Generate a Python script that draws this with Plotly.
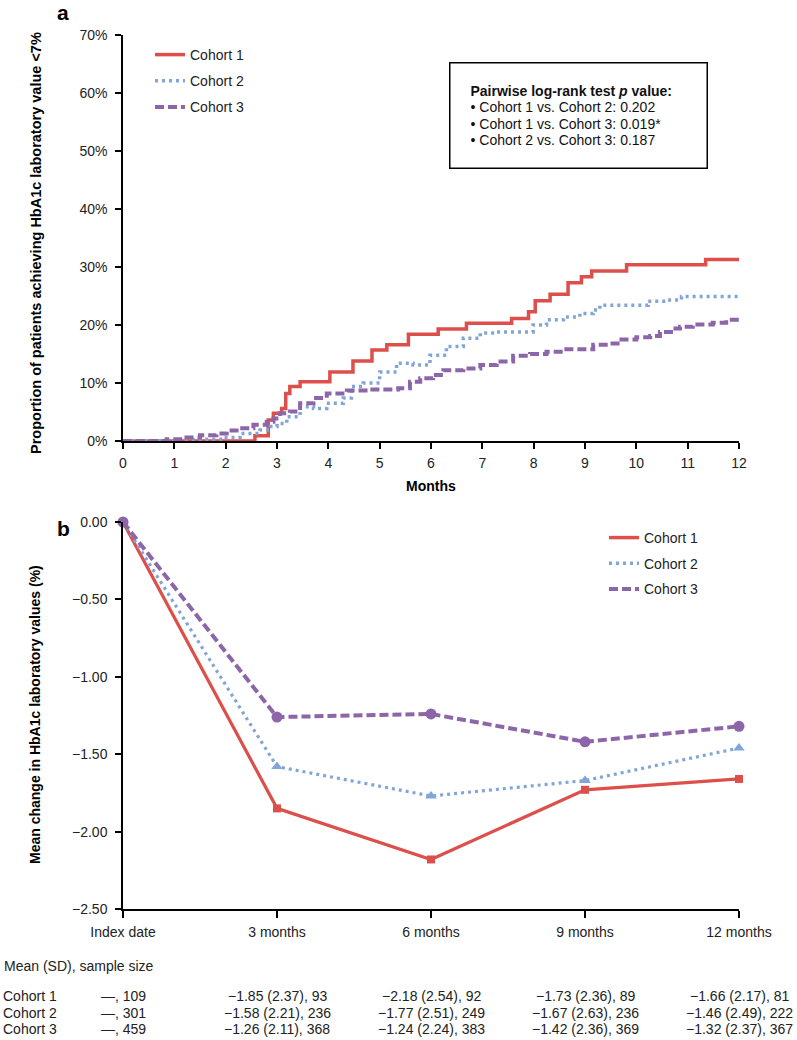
import plotly.graph_objects as go

# ---------------- Panel a data (cumulative proportion, %) ----------------
c1_t = [0, 2.57, 2.83, 2.93, 3.09, 3.17, 3.25, 3.45, 4.03, 4.48, 4.85, 5.14, 5.56, 6.14, 6.69,
        7.57, 7.90, 8.03, 8.32, 8.67, 8.93, 9.13, 9.81, 11.35, 12]
c1_v = [0, 0.9, 3.6, 4.8, 5.6, 8.2, 9.4, 10.2, 11.9, 13.8, 15.7, 16.6, 18.4, 19.3, 20.3,
        21.1, 22.3, 24.2, 25.3, 27.3, 28.3, 29.3, 30.4, 31.3, 31.3]

c2_t = [0, 1.0, 1.5, 1.95, 2.28, 2.67, 2.86, 3.0, 3.19, 3.45, 3.71, 3.97, 4.29, 4.45, 4.68,
        5.0, 5.33, 5.65, 5.98, 6.3, 6.63, 6.96, 7.28, 7.8, 7.99, 8.25, 8.58, 8.9, 9.16, 9.29,
        10.23, 10.59, 10.88, 12]
c2_v = [0, 0.2, 0.3, 0.6, 1.3, 1.9, 2.5, 3.0, 4.2, 5.9, 5.6, 6.5, 7.4, 9.4, 10.0,
        11.9, 13.4, 13.1, 14.8, 16.3, 17.7, 18.6, 18.8, 18.8, 20.0, 20.9, 21.4, 22.0, 22.6, 23.4,
        24.1, 24.3, 24.9, 24.9]

c3_t = [0, 0.85, 1.17, 1.5, 1.82, 2.02, 2.28, 2.54, 2.8, 2.93, 3.06, 3.25, 3.45, 3.71, 3.97,
        4.36, 4.81, 5.36, 5.59, 5.79, 6.04, 6.24, 6.63, 6.96, 7.28, 7.6, 7.93, 8.25, 8.58, 9.16,
        9.49, 9.71, 10.0, 10.27, 10.46, 10.72, 10.85, 11.1, 11.49, 11.75, 12]
c3_v = [0, 0.3, 0.6, 1.0, 1.3, 1.8, 2.2, 2.8, 3.3, 3.9, 4.8, 5.1, 6.5, 7.4, 8.2,
        8.7, 8.9, 9.1, 10.2, 10.8, 11.4, 12.2, 12.5, 13.1, 13.7, 14.7, 15.0, 15.4, 15.8, 16.6,
        16.8, 17.5, 17.9, 18.1, 18.8, 19.4, 19.7, 20.1, 20.4, 20.9, 21.0]

pct_ticks = [0, 10, 20, 30, 40, 50, 60, 70]
pct_labels = ["0%", "10%", "20%", "30%", "40%", "50%", "60%", "70%"]
month_ticks = list(range(0, 13))

# ---------------- Panel b data (mean change, %) ----------------
b_x = [0, 3, 6, 9, 12]
b_labels = ["Index date", "3 months", "6 months", "9 months", "12 months"]
b_c1 = [0, -1.85, -2.18, -1.73, -1.66]
b_c2 = [0, -1.58, -1.77, -1.67, -1.46]
b_c3 = [0, -1.26, -1.24, -1.42, -1.32]
b_yticks = [0, -0.5, -1.0, -1.5, -2.0, -2.5]

table_rows = ["Cohort 1", "Cohort 2", "Cohort 3"]
table_c1 = ["\u2014, 109", "\u22121.85 (2.37), 93", "\u22122.18 (2.54), 92", "\u22121.73 (2.36), 89", "\u22121.66 (2.17), 81"]
table_c2 = ["\u2014, 301", "\u22121.58 (2.21), 236", "\u22121.77 (2.51), 249", "\u22121.67 (2.63), 236", "\u22121.46 (2.49), 222"]
table_c3 = ["\u2014, 459", "\u22121.26 (2.11), 368", "\u22121.24 (2.24), 383", "\u22121.42 (2.36), 369", "\u22121.32 (2.37), 367"]

names = ["Cohort 1", "Cohort 2", "Cohort 3"]
RED = "#dc4f4b"
BLUE = "#82a5d8"
PURPLE = "#8c66a8"
FONT = "Arial, Liberation Sans, sans-serif"

W, H = 797, 1040
ML, MR, MT, MB = 123, 58, 35, 131
plot_h = H - MT - MB
dom_a = [(909 - 441) / plot_h, 1.0]
dom_b = [0.0, (909 - 522) / plot_h]

fig = go.Figure()

styles = [
    dict(color=RED, width=3.5, dash="solid"),
    dict(color=BLUE, width=3.5, dash="3px,4px"),
    dict(color=PURPLE, width=4, dash="9px,4px"),
]

for i, (t, v) in enumerate([(c1_t, c1_v), (c2_t, c2_v), (c3_t, c3_v)]):
    fig.add_trace(go.Scatter(
        x=t, y=v, mode="lines", line=dict(shape="hv", **styles[i]),
        name=names[i], legend="legend", legendgroup="a%d" % i,
        xaxis="x", yaxis="y", cliponaxis=False))

markers = ["square", "triangle-up", "circle"]
msizes = [8, 10, 11]
cols = [RED, BLUE, PURPLE]
for i, vals in enumerate([b_c1, b_c2, b_c3]):
    st = dict(styles[i])
    st["width"] = 3.2 if i < 2 else 4
    fig.add_trace(go.Scatter(
        x=b_x, y=vals, mode="lines+markers", line=st,
        marker=dict(symbol=markers[i], size=msizes[i], color=cols[i]),
        showlegend=False, xaxis="x2", yaxis="y2", cliponaxis=False))
# legend-only entries for panel b (lines without markers)
for i in range(3):
    fig.add_trace(go.Scatter(
        x=[None], y=[None], mode="lines", line=styles[i], name=names[i],
        legend="legend2", legendgroup="b%d" % i, xaxis="x2", yaxis="y2"))

axis_common = dict(showline=True, linecolor="black", linewidth=1.5, ticks="outside",
                   ticklen=6, tickwidth=1.5, tickcolor="black", showgrid=False, zeroline=False,
                   tickfont=dict(family=FONT, size=14, color="#222"))

def px_x(px):
    return (px - ML) / (W - ML - MR)

def px_y(py):
    return (H - MB - py) / plot_h

fig.update_layout(
    width=W, height=H, margin=dict(l=ML, r=MR, t=MT, b=MB),
    paper_bgcolor="white", plot_bgcolor="white",
    font=dict(family=FONT, size=14, color="#222"),
    xaxis=dict(domain=[0, 1], anchor="y", range=[0, 12], tickvals=month_ticks,
               ticklabelstandoff=2, **axis_common),
    yaxis=dict(domain=dom_a, anchor="x", range=[0, 70], tickvals=pct_ticks, ticktext=pct_labels,
               ticklabelstandoff=5, **axis_common),
    xaxis2=dict(domain=[0, 1], anchor="y2", range=[0, 12], tickvals=b_x, ticktext=b_labels,
                ticklabelstandoff=2, **{**axis_common, "ticklen": 7}),
    yaxis2=dict(domain=dom_b, anchor="x2", range=[-2.5, 0], tickvals=b_yticks, tickformat=".2f",
                ticklabelstandoff=5, **axis_common),
    legend=dict(x=px_x(150), y=px_y(39), xanchor="left", yanchor="top", bgcolor="rgba(0,0,0,0)",
                font=dict(family=FONT, size=14, color="#222"), tracegroupgap=5, itemwidth=30),
    legend2=dict(x=px_x(604), y=px_y(522), xanchor="left", yanchor="top", bgcolor="rgba(0,0,0,0)",
                 font=dict(family=FONT, size=14, color="#222"), tracegroupgap=4.5, itemwidth=30),
)

def big(s):
    return '<span style="font-size:14px">' + s + '</span>'

ann = []
ann.append(dict(text="<b>a</b>", x=px_x(63), y=px_y(13), xref="paper", yref="paper",
                showarrow=False, font=dict(size=21, color="black"), xanchor="center", yanchor="middle"))
ann.append(dict(text="<b>b</b>", x=px_x(63), y=px_y(528), xref="paper", yref="paper",
                showarrow=False, font=dict(size=21, color="black"), xanchor="center", yanchor="middle"))
ann.append(dict(text="<b>Proportion of patients achieving HbA1c laboratory value <7%</b>",
                x=px_x(36), y=px_y(243), xref="paper", yref="paper", textangle=-90,
                showarrow=False, font=dict(size=14.5, color="black"), xanchor="center", yanchor="middle"))
ann.append(dict(text="<b>Months</b>", x=px_x(431), y=px_y(486), xref="paper", yref="paper",
                showarrow=False, font=dict(size=14, color="black"), xanchor="center", yanchor="middle"))
ann.append(dict(text="<b>Mean change in HbA1c laboratory values (%)</b>",
                x=px_x(35), y=px_y(715), xref="paper", yref="paper", textangle=-90,
                showarrow=False, font=dict(size=14, color="black"), xanchor="center", yanchor="middle"))
ann.append(dict(text=big("<b>Pairwise log-rank test <i>p</i> value:</b>") + "<br>" +
                     big("\u2022 Cohort 1 vs. Cohort 2: 0.202") + "<br>" +
                     big("\u2022 Cohort 1 vs. Cohort 3: 0.019*") + "<br>" +
                     big("\u2022 Cohort 2 vs. Cohort 3: 0.187"),
                x=px_x(578.5), y=px_y(115.5), xref="paper", yref="paper", showarrow=False,
                align="left", xanchor="center", yanchor="middle", bordercolor="black", borderwidth=1.5,
                borderpad=20, width=216, height=64, bgcolor="white",
                font=dict(size=12.8, color="#111")))
ann.append(dict(text="Mean (SD), sample size", x=px_x(2), y=px_y(966), xref="paper", yref="paper",
                showarrow=False, xanchor="left", yanchor="middle", font=dict(size=14, color="#222")))
row_y = [996, 1012.5, 1029]
for r, (lab, vals) in enumerate(zip(table_rows, [table_c1, table_c2, table_c3])):
    ann.append(dict(text=lab, x=px_x(1), y=px_y(row_y[r]), xref="paper", yref="paper",
                    showarrow=False, xanchor="left", yanchor="middle", font=dict(size=14, color="#222")))
    for xv, txt in zip(b_x, vals):
        ann.append(dict(text=txt, x=xv, y=px_y(row_y[r]), xref="x2", yref="paper",
                        showarrow=False, xanchor="center", yanchor="middle",
                        font=dict(size=14, color="#222")))
fig.update_layout(annotations=ann)

fig.write_html("out.html", config={"displayModeBar": False},
               post_script="document.body.style.margin='0';")
